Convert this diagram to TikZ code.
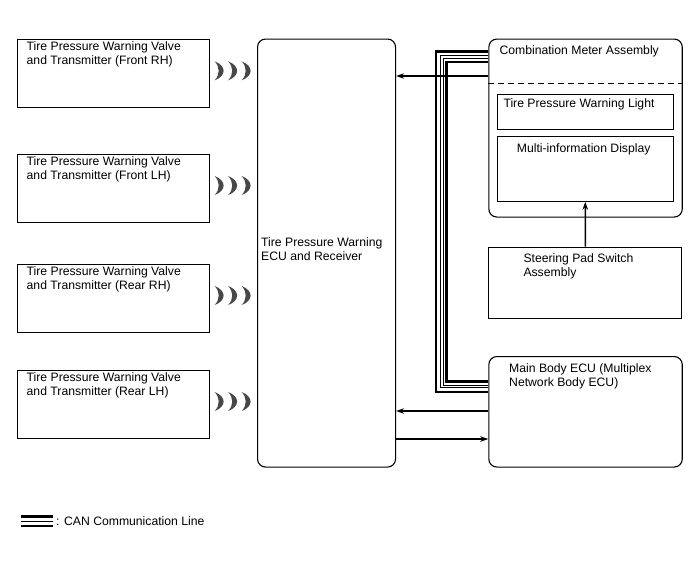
\documentclass[tikz,border=0pt]{standalone}
\usepackage{fontspec}
\setmainfont{Liberation Sans}
\usetikzlibrary{arrows.meta,calc,positioning}
\tikzset{pin/.style={line width=1.5pt, -{Stealth[length=8pt, width=5.5pt]}},
  blk/.style={draw, line width=1.1pt, anchor=north west, inner sep=0pt},
  rblk/.style={blk, rounded corners=8pt},
  lbl/.style={anchor=north west, inner sep=0pt, align=left},
  can/.style={line width=#1, line join=miter},
  wave/.pic={\foreach \x in {0,13.5,27}
    \fill[black!72] (\x,-9.5) .. controls (\x+12,-5) and (\x+12,5) .. (\x,9.5)
      .. controls (\x+5.5,4) and (\x+5.5,-4) .. cycle;}}

\begin{document}
\begin{tikzpicture}[x=1pt, y=-1pt, font=\fontsize{12.2}{14}\selectfont]
  \useasboundingbox (0,0) rectangle (688,560);
  % valve transmitters
  \foreach \n/\y/\s in {tfr/39.3/Front RH, tfl/154/Front LH, trr/264/Rear RH, trl/370/Rear LH}{
    \node[blk, minimum width=192.5pt, minimum height=68pt] (\n) at (16.5,\y) {};
    \node[lbl, below right=2.5pt and 10pt of \n.north west] {Tire Pressure Warning Valve\\and Transmitter (\s)};
    \pic at ([xshift=4.5pt, yshift=3pt]\n.east) {wave};
  }
  % ECU and receiver
  \node[rblk, minimum width=138pt, minimum height=428pt] (ecu) at (257,38.5) {};
  \node[lbl] at ([xshift=4pt, yshift=15.8pt]ecu.west) {Tire Pressure Warning\\ECU and Receiver};
  % combination meter
  \node[rblk, minimum width=193.4pt, minimum height=178pt] (meter) at (488.3,38.5) {};
  \node[lbl, below right=6.5pt and 11pt of meter.north west] {Combination Meter Assembly};
  \draw[line width=1.1pt, dash pattern=on 6pt off 4pt] ([yshift=-44.8pt]meter.north west) -- ([yshift=-44.8pt]meter.north east);
  \node[blk, minimum width=176pt, minimum height=34.7pt] (tpwl) at (496.7,94.3) {};
  \node[lbl, below right=4.5pt and 6.6pt of tpwl.north west] {Tire Pressure Warning Light};
  \node[blk, minimum width=176pt, minimum height=65pt] (mid) at (496.7,135.7) {};
  \node[lbl, below right=7.4pt and 20pt of mid.north west] {Multi-information Display};
  % steering pad, main body ECU
  \node[blk, minimum width=193pt, minimum height=71.6pt] (steer) at (488.3,246.7) {};
  \node[lbl, below right=6.4pt and 35pt of steer.north west] {Steering Pad Switch\\Assembly};
  \node[rblk, minimum width=193.4pt, minimum height=110.5pt] (body) at (488.3,356) {};
  \node[lbl, below right=7.8pt and 20.7pt of body.north west] {Main Body ECU (Multiplex\\Network Body ECU)};
  % signal lines
  \coordinate (m1) at ([yshift=-37.5pt]meter.north west);
  \coordinate (b1) at ([yshift=-55pt]body.north west);
  \coordinate (b2) at ([yshift=-83pt]body.north west);
  \draw[pin] (steer.north) -- (mid.south);
  \draw[pin] (m1) -- (m1 -| ecu.east);
  \draw[pin] (b1) -- (b1 -| ecu.east);
  \draw[pin] (b2 -| ecu.east) -- (b2);
  % CAN
  \foreach \d/\w in {0/2.5pt, 4.2/1pt, 7/1pt, 10.6/2.5pt}{
    \draw[can=\w] ([yshift={-(12.8+\d)*1pt}]meter.north west) -- ++(-52.3+\d,0) |- ([yshift={(-36+\d)*1pt}]body.north west);
  }
  % legend
  \coordinate (lg) at (21,516.5);
  \draw[can=2.6pt] (lg) -- ++(32,0);
  \draw[can=1.8pt] ([yshift=-5pt]lg) -- ++(32,0);
  \draw[can=2.6pt] ([yshift=-9.5pt]lg) -- ++(32,0);
  \node[anchor=west, inner sep=0pt] (lgtxt) at (56,521.5) {: CAN Communication Line};
\end{tikzpicture}
\end{document}
